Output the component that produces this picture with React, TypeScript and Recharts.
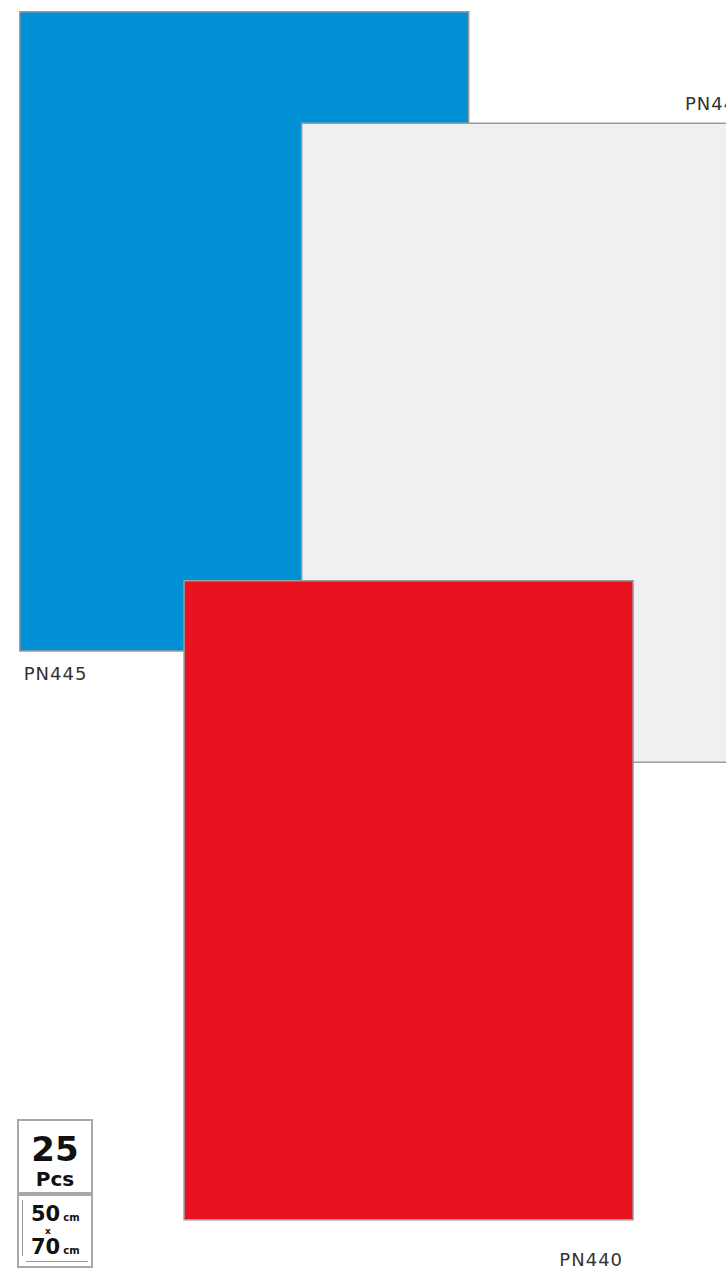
import { ComposedChart, XAxis, YAxis, ReferenceArea } from "recharts";

// sheet layout, in centimetres on the page
const sheetCodes = ["PN445", "PN442", "PN440"];
const sheetLeftCm = [2.2, 33.6, 20.5];
const sheetTopCm = [1.3, 13.5, 63.6];
const sheetWidthCm = [50, 50, 50];
const sheetHeightCm = [70, 70, 70];

// pack info shown in the badge
const packPieces = [25];
const packSizeCm = [50, 70];

const PAGE_W_CM = 80.85;
const PAGE_H_CM = 139.65;

const fills: Record<string, string> = {
  PN445: "#0290d4",
  PN442: "#f0f0f0",
  PN440: "#e8131e",
};

// where each code is printed relative to its sheet
const labelPos: Record<string, { dx: number; dy: number; anchor: "start" | "end"; from: "left" | "right"; edge: "top" | "bottom" }> = {
  PN445: { dx: 4, dy: 29, anchor: "start", from: "left", edge: "bottom" },
  PN442: { dx: -2, dy: -13, anchor: "end", from: "right", edge: "top" },
  PN440: { dx: -10, dy: 46, anchor: "end", from: "right", edge: "bottom" },
};

const rows = sheetCodes.map((code, i) => ({
  code,
  x1: sheetLeftCm[i],
  x2: sheetLeftCm[i] + sheetWidthCm[i],
  y1: sheetTopCm[i],
  y2: sheetTopCm[i] + sheetHeightCm[i],
}));

function codeLabel(code: string) {
  const p = labelPos[code];
  return (props: any) => {
    const vb = props.viewBox || {};
    const x = p.from === "left" ? vb.x + p.dx : vb.x + vb.width + p.dx;
    const y = p.edge === "top" ? vb.y + p.dy : vb.y + vb.height + p.dy;
    return (
      <text
        x={x}
        y={y}
        textAnchor={p.anchor}
        fontFamily="DejaVu Sans, sans-serif"
        fontSize={18}
        letterSpacing={1}
        fill="#333"
      >
        {code}
      </text>
    );
  };
}

export default function App() {
  return (
    <div style={{ position: "relative", width: 726, height: 1275, background: "#fff", overflow: "hidden" }}>
      <style>{"body{margin:0}"}</style>
      <ComposedChart width={726} height={1275} data={rows} margin={{ top: 0, right: 0, bottom: 0, left: 0 }}>
        <XAxis type="number" dataKey="x1" domain={[0, PAGE_W_CM]} hide allowDataOverflow />
        <YAxis type="number" dataKey="y1" domain={[0, PAGE_H_CM]} reversed hide allowDataOverflow />
        {rows.map((r) => (
          <ReferenceArea
            key={r.code}
            x1={r.x1}
            x2={r.x2}
            y1={r.y1}
            y2={r.y2}
            ifOverflow="visible"
            fill={fills[r.code]}
            fillOpacity={1}
            stroke="#9c9c9c"
            strokeWidth={1.5}
            label={codeLabel(r.code)}
          />
        ))}
      </ComposedChart>

      {/* pieces badge */}
      <div
        style={{
          position: "absolute",
          left: 17,
          top: 1119,
          width: 72,
          height: 71,
          border: "2px solid #a8a8a8",
          background: "#fff",
          fontFamily: "DejaVu Sans, sans-serif",
          fontWeight: 700,
          color: "#111",
          textAlign: "center",
        }}
      >
        <div style={{ fontSize: 34, lineHeight: "34px", marginTop: 11 }}>{packPieces[0]}</div>
        <div style={{ fontSize: 20, lineHeight: "22px", marginTop: 2 }}>Pcs</div>
      </div>

      {/* size badge */}
      <div
        style={{
          position: "absolute",
          left: 17,
          top: 1194,
          width: 72,
          height: 70,
          border: "2px solid #a8a8a8",
          background: "#fff",
          fontFamily: "DejaVu Sans, sans-serif",
          fontWeight: 700,
          color: "#111",
        }}
      >
        <div style={{ position: "absolute", left: 3, top: 4, width: 1, height: 56, background: "#999" }} />
        <div style={{ position: "absolute", left: 7, top: 65, width: 62, height: 1, background: "#999" }} />
        <div style={{ position: "absolute", left: 12, top: 7, fontSize: 21, lineHeight: "22px" }}>
          {packSizeCm[0]}
          <span style={{ fontSize: 10, marginLeft: 3 }}>cm</span>
        </div>
        <div style={{ position: "absolute", left: 26, top: 30, fontSize: 9, lineHeight: "10px" }}>x</div>
        <div style={{ position: "absolute", left: 12, top: 40, fontSize: 21, lineHeight: "22px" }}>
          {packSizeCm[1]}
          <span style={{ fontSize: 10, marginLeft: 3 }}>cm</span>
        </div>
      </div>
    </div>
  );
}
